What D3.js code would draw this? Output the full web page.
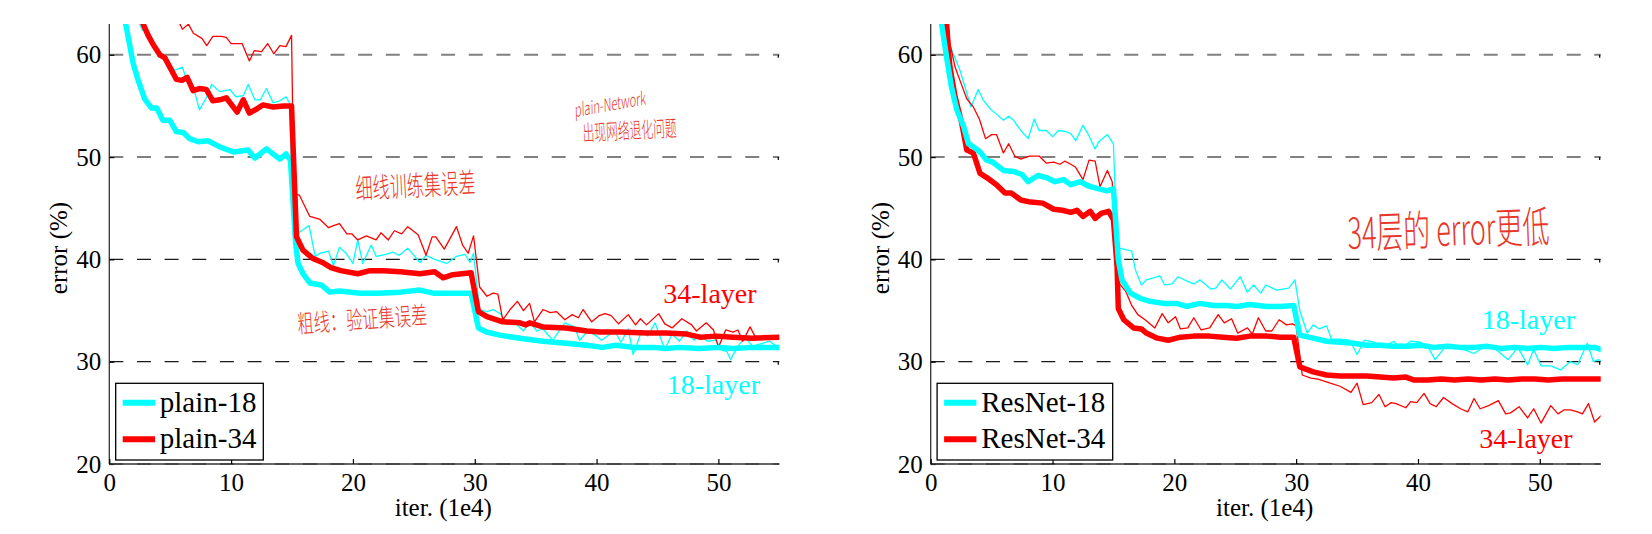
<!DOCTYPE html>
<html>
<head>
<meta charset="utf-8">
<script src="https://cdn.jsdelivr.net/npm/d3@7"></script>
<style>
  html, body { margin: 0; padding: 0; background: #fff; }
  svg { display: block; }
</style>
</head>
<body>
<svg id="chart" width="1652" height="534"></svg>
<script>
// ---------- data (x in 1e4 iterations, y = error %) ----------
const xTicks = [0, 10, 20, 30, 40, 50];
const yTicks = [20, 30, 40, 50, 60];

const plain18Train = [[2.3,64.5],[2.5,63],[2.7,62.4],[3.0,62.6],[3.5,61.6],[4.0,59.8],[4.4,59.8],[4.97,58.8],[5.4,58.5],[6.0,58.8],[6.3,57.7],[7.0,56.4],[7.4,54.6],[8.0,55.9],[8.4,57.1],[9.07,56.4],[9.9,56.6],[10.4,55.9],[11.0,56.0],[11.4,57.1],[11.95,55.6],[12.4,55.6],[12.9,56.7],[13.45,55.3],[14.0,55.5],[14.5,55.9],[14.8,55.3],[15.1,43.2],[15.5,42.6],[15.9,42.9],[16.4,43.3],[16.9,40.3],[17.3,40.6],[18.0,40.8],[18.4,39.4],[18.9,41.2],[19.5,40.5],[20.0,39.6],[20.4,41.9],[20.8,39.6],[21.5,41.4],[21.9,40.3],[22.7,40.5],[23.3,40.7],[23.8,40.4],[24.5,41.1],[25.5,39.7],[26.0,40.4],[26.7,40.0],[27.7,39.6],[28.5,40.3],[29.2,40.5],[29.6,39.7],[29.9,40.6],[30.4,35.1],[31.0,34.9],[31.5,35.1],[32.1,34.7],[32.6,33.9],[33.3,33.8],[34.0,33.0],[34.5,33.9],[35.1,33.0],[35.6,33.2],[36.4,32.1],[37.4,33.8],[38.2,33.4],[38.6,32.1],[39.3,33.0],[40.0,32.5],[40.4,32.1],[41.5,33.0],[42.0,31.9],[42.6,33.2],[43.0,30.7],[43.7,33.0],[44.2,32.5],[44.8,33.8],[45.6,31.2],[46.2,32.7],[46.8,32.0],[47.4,33.0],[48.0,32.1],[48.5,32.6],[49.1,32.0],[49.8,32.1],[50.3,31.1],[50.7,31.0],[51.0,30.2],[51.6,31.5],[52.2,32.4],[52.8,31.5],[53.6,31.8],[54.2,32.0],[54.8,31.5],[55,31.3]];

const plain34Train = [[5.5,64.5],[5.8,63],[6.0,62.5],[6.5,63.0],[6.9,62.1],[7.6,61.6],[8.0,60.9],[8.5,61.8],[9.2,61.8],[9.6,61.7],[10.0,61.1],[10.5,61.1],[10.9,61.1],[11.5,59.4],[11.9,60.4],[12.5,60.3],[13.0,61.1],[13.5,60.1],[14.0,60.9],[14.5,60.8],[14.96,61.9],[15.15,46.3],[15.6,46.3],[16.46,44.2],[17.3,43.9],[18.0,43.1],[18.4,43.3],[18.9,43.5],[19.5,42.5],[19.9,42.5],[20.4,41.9],[21.1,42.3],[21.9,41.9],[22.3,42.6],[22.9,41.9],[23.4,42.8],[24.0,42.5],[24.5,43.2],[25.35,42.4],[26.0,40.4],[26.5,42.2],[26.8,42.2],[27.5,41.0],[28.5,43.2],[29.0,41.4],[29.46,40.6],[29.9,42.3],[30.4,37.3],[31.0,36.4],[31.5,36.7],[31.9,36.6],[32.3,34.1],[32.9,35.1],[33.5,35.9],[34.0,35.0],[34.5,35.7],[34.9,33.9],[35.6,35.1],[36.2,34.8],[36.7,34.9],[37.4,34.1],[38.0,34.6],[38.5,34.3],[38.9,35.1],[39.6,33.9],[40.2,34.5],[40.7,34.7],[41.2,34.5],[41.8,33.7],[42.6,34.6],[43.2,33.6],[43.6,34.2],[44.1,33.6],[45.1,34.7],[45.6,33.7],[46.2,33.3],[47.0,34.2],[47.8,33.6],[48.2,33.0],[49.0,33.8],[49.6,33.1],[50.0,31.4],[50.6,33.1],[51.2,32.9],[51.6,33.1],[52.0,32.0],[52.6,33.4],[53.0,32.5],[53.5,32.4],[54.1,32.5],[54.6,32.2],[55,32.3]];

const plain18Val = [[1.1,66],[1.35,63],[1.95,59.2],[2.37,57.5],[2.9,55.7],[3.46,54.8],[3.9,54.8],[4.4,53.6],[4.97,53.6],[5.5,52.5],[6.07,52.4],[6.6,51.8],[7.29,51.5],[8.1,51.6],[9.07,51.0],[10.2,50.5],[11.4,50.7],[11.95,49.9],[12.9,50.8],[14.0,49.8],[14.5,50.3],[14.87,49.7],[15.3,41.5],[15.5,39.6],[15.9,38.6],[16.46,37.7],[17.4,37.5],[18.1,36.8],[18.9,36.9],[20.6,36.7],[22.0,36.7],[23.9,36.8],[25.5,37.0],[26.6,36.7],[28.8,36.7],[29.7,36.7],[30.3,33.3],[30.97,32.9],[32.06,32.6],[33.7,32.3],[35.6,32.0],[37.5,31.8],[39.2,31.6],[40.5,31.4],[41.6,31.6],[43.0,31.4],[44.7,31.4],[45.7,31.3],[46.8,31.4],[48.4,31.3],[50.1,31.4],[51.2,31.3],[52.8,31.4],[55,31.4]];

const plain34Val = [[2.6,64.5],[2.78,63],[3.19,61.9],[3.6,61.0],[4.15,60.0],[4.56,59.7],[4.97,58.8],[5.5,57.6],[5.96,57.5],[6.39,57.8],[6.88,56.5],[7.4,56.7],[7.97,56.6],[8.5,55.5],[9.07,55.6],[9.6,55.8],[10.5,54.4],[11.0,55.6],[11.5,54.3],[12.1,54.7],[12.6,55.1],[13.45,54.9],[14.3,55.0],[14.96,55.0],[15.37,42.2],[15.9,40.9],[16.7,40.1],[17.5,39.7],[18.2,39.2],[19.0,38.9],[20.4,38.6],[21.4,38.9],[22.5,38.9],[23.9,38.8],[25.5,38.6],[26.7,38.8],[27.4,38.2],[28.2,38.5],[29.7,38.7],[30.3,34.9],[31.0,34.4],[32.3,33.9],[33.7,33.8],[34.2,33.6],[34.5,33.8],[35.6,33.4],[37.5,33.3],[39.2,33.0],[40.3,32.9],[41.9,32.9],[44.1,32.8],[45.7,32.8],[47.4,32.7],[48.5,32.4],[49.8,32.5],[51.2,32.4],[52.8,32.3],[55,32.4]];

const res18Train = [[1.0,66],[1.4,61.5],[1.85,60.1],[2.4,58.5],[2.8,56.9],[3.3,54.9],[3.9,56.6],[4.3,55.6],[4.9,54.7],[5.4,54.2],[5.97,53.6],[6.4,54.0],[6.8,53.6],[7.4,52.6],[8.0,51.8],[8.5,53.7],[8.9,52.6],[9.5,52.6],[10.0,52.0],[10.5,52.6],[11.1,52.5],[11.5,52.3],[11.9,51.6],[12.5,53.1],[12.9,52.3],[13.5,50.8],[13.8,51.5],[14.5,52.2],[15.0,51.3],[15.3,41.2],[15.5,41.1],[16.5,40.8],[16.8,39.0],[17.3,37.5],[17.7,38.0],[18.3,38.2],[18.8,38.4],[19.2,37.5],[19.8,37.6],[20.3,38.3],[21.0,37.9],[21.6,37.6],[22.1,38.0],[23.0,37.1],[23.4,37.2],[23.9,38.0],[24.6,37.1],[25.4,38.3],[26.0,36.8],[26.5,37.5],[27.1,36.7],[27.5,37.5],[28.4,37.0],[29.4,37.2],[29.9,38.0],[30.3,35.0],[30.9,32.8],[31.4,33.6],[31.9,33.2],[32.5,33.5],[32.9,32.2],[33.6,32.2],[34.4,32.1],[35.0,30.7],[35.6,32.1],[36.4,31.9],[37.2,31.4],[38.0,32.0],[38.6,31.3],[39.4,32.0],[40.2,31.9],[40.8,31.5],[41.4,30.2],[42.4,31.7],[43.5,31.3],[44.6,30.8],[45.6,31.6],[46.3,31.3],[47.4,30.2],[48.2,31.4],[49.0,29.7],[49.5,31.2],[50.1,29.6],[50.9,29.6],[51.7,29.2],[52.5,30.0],[53.1,29.7],[53.9,31.8],[54.4,30.0],[54.8,30.2],[55,30.1]];

const res34Train = [[1.3,66],[1.6,61],[2.0,58.8],[2.4,57.5],[2.96,55.7],[3.5,54.9],[4.0,53.7],[4.5,51.8],[5.0,52.2],[5.4,52.2],[5.97,50.4],[6.4,51.3],[6.9,50.1],[7.4,49.8],[8.1,50.1],[8.9,50.1],[9.5,49.4],[10.1,49.5],[10.6,49.3],[11.0,49.6],[11.5,49.3],[11.9,49.0],[12.5,47.8],[13.0,49.7],[13.5,49.6],[13.9,47.1],[14.5,48.7],[14.9,47.6],[15.2,42.0],[15.5,37.6],[16.0,36.9],[16.5,35.5],[17.0,34.6],[17.6,34.1],[18.4,33.3],[19.0,34.7],[19.5,33.8],[20.1,34.4],[20.5,33.2],[21.1,33.3],[21.6,34.3],[22.2,33.1],[22.9,33.3],[23.6,34.6],[24.1,33.8],[24.7,34.2],[25.2,32.8],[26.0,33.3],[26.4,32.7],[26.9,34.3],[27.5,33.0],[28.0,33.0],[28.6,34.1],[29.2,33.6],[29.7,33.7],[30.0,33.5],[30.5,28.7],[31.2,28.4],[31.8,28.3],[32.8,27.9],[33.6,27.6],[34.5,27.0],[35.0,27.9],[35.5,25.8],[36.2,26.0],[36.8,26.8],[37.3,25.6],[37.8,26.0],[38.2,25.9],[39.0,25.5],[39.4,26.1],[39.9,26.0],[40.5,26.9],[41.0,25.9],[41.5,25.6],[42.1,26.5],[42.8,25.9],[43.5,25.4],[44.1,25.1],[44.6,26.4],[45.1,25.4],[45.8,25.7],[46.6,26.2],[47.2,24.9],[47.6,25.0],[48.3,25.6],[49.0,24.5],[49.5,25.4],[50.1,24.0],[50.9,25.7],[51.5,24.9],[52.0,25.3],[52.5,25.3],[53.1,25.1],[53.5,24.9],[54.0,25.9],[54.5,24.1],[55,24.7]];

const res18Val = [[0.75,66],[0.9,63],[1.3,59.8],[1.7,56.9],[2.15,54.6],[2.7,53.0],[3.1,51.3],[3.5,51.0],[4.05,50.5],[4.6,49.7],[5.1,49.5],[5.97,48.7],[6.8,48.6],[7.5,48.3],[8.0,47.6],[8.8,48.2],[9.5,48.0],[10.2,47.6],[10.9,47.8],[11.5,47.3],[12.3,47.6],[12.9,47.2],[13.5,47.0],[14.46,46.7],[15.0,46.9],[15.4,40.0],[15.7,38.0],[16.4,36.7],[17.2,36.2],[18.0,35.9],[19.1,35.7],[20.2,35.7],[21.0,35.4],[22.1,35.7],[23.2,35.5],[24.3,35.5],[25.1,35.4],[26.2,35.6],[27.6,35.4],[28.7,35.4],[29.8,35.5],[30.3,32.6],[31.4,32.3],[32.5,32.0],[33.6,31.9],[34.7,31.8],[35.8,31.6],[36.9,31.6],[38.0,31.5],[39.1,31.5],[40.2,31.6],[41.3,31.4],[42.4,31.5],[43.5,31.4],[44.6,31.4],[45.7,31.5],[46.8,31.3],[47.9,31.4],[49.0,31.3],[50.1,31.4],[51.2,31.3],[52.3,31.4],[53.4,31.4],[54.5,31.4],[55,31.2]];

const res34Val = [[1.1,66],[1.25,63],[1.58,58.8],[2.0,55.9],[2.55,53.3],[2.96,50.7],[3.5,50.4],[4.05,48.4],[4.6,48.0],[5.4,47.3],[6.1,46.5],[6.6,46.5],[7.4,45.8],[8.2,45.6],[9.2,45.5],[10.1,44.9],[10.8,44.8],[11.5,44.6],[12.0,44.8],[12.5,44.2],[13.1,44.7],[13.5,44.0],[14.0,44.5],[14.6,44.7],[15.0,43.9],[15.3,39.3],[15.4,35.2],[15.85,34.1],[16.65,33.3],[17.3,33.2],[17.7,32.8],[18.6,32.3],[19.5,32.1],[20.5,32.4],[21.6,32.5],[22.9,32.5],[24.0,32.4],[25.1,32.3],[26.2,32.5],[27.6,32.5],[28.7,32.4],[29.8,32.4],[30.3,29.5],[31.4,29.0],[32.5,28.7],[33.6,28.6],[34.7,28.6],[35.8,28.6],[36.9,28.5],[38.0,28.4],[39.0,28.5],[39.7,28.2],[40.8,28.2],[41.9,28.3],[43.0,28.2],[44.1,28.3],[45.2,28.2],[46.3,28.3],[47.4,28.2],[48.5,28.3],[49.6,28.3],[50.7,28.2],[51.8,28.3],[52.9,28.3],[54.0,28.3],[55,28.3]];

const leftLegend = ["plain-18", "plain-34"];
const rightLegend = ["ResNet-18", "ResNet-34"];
const xLabel = "iter. (1e4)";
const yLabel = "error (%)";

// ---------- drawing ----------
const CYAN = "#00ffff", RED = "#ff0000", HAND = "#e8362a";
const SERIF = "'Liberation Serif', 'Times New Roman', serif";
const CJK = "'Noto Sans CJK SC', sans-serif";
const svg = d3.select("#chart");

function panel(id, x0, series, legendLabels, layerLabels) {
  const W = 670, top = 24.1, bottom = 464;
  const x = d3.scaleLinear().domain([0, 55]).range([x0, x0 + W]);
  const y = d3.scaleLinear().domain([20, 63]).range([bottom, top]);
  const g = svg.append("g");

  g.append("clipPath").attr("id", "clip" + id)
    .append("rect").attr("x", x0).attr("y", top).attr("width", W).attr("height", bottom - top);

  // grid lines
  g.append("g").selectAll("line").data(yTicks).join("line")
    .attr("x1", x0).attr("x2", x0 + W)
    .attr("y1", d => y(d)).attr("y2", d => y(d))
    .attr("stroke", d => (d >= 50 || d === 20) ? "#808080" : "#1a1a1a")
    .attr("stroke-width", d => (d >= 50 || d === 20) ? 2 : 1.2)
    .attr("stroke-dasharray", "14,13.65");

  // axes
  const yAxis = d3.axisLeft(y).tickValues(yTicks).tickSize(-5).tickPadding(8);
  const ya = g.append("g").attr("transform", `translate(${x0},0)`).call(yAxis);
  const xAxis = d3.axisBottom(x).tickValues(xTicks).tickSize(-5).tickPadding(9);
  const xa = g.append("g").attr("transform", `translate(0,${bottom})`).call(xAxis);
  [ya, xa].forEach(a => {
    a.select(".domain").attr("stroke", "#333").attr("stroke-width", 1.3);
    a.selectAll(".tick line").attr("stroke", "#000").attr("stroke-width", 1.2);
    a.selectAll("text").attr("font-family", SERIF).attr("font-size", 25).attr("fill", "#000");
  });
  ya.select(".domain").attr("d", `M0,${top}V${bottom}`);
  xa.select(".domain").attr("d", `M${x0},0H${x0 + W}`);
  // small right-end ticks on grid lines
  g.append("g").selectAll("line").data(yTicks.filter(d => d > 20)).join("line")
    .attr("x1", x0 + W - 1).attr("x2", x0 + W - 1)
    .attr("y1", d => y(d)).attr("y2", d => y(d) + 3)
    .attr("stroke", "#000").attr("stroke-width", 1.2);

  // series
  const line = d3.line().x(d => x(d[0])).y(d => y(d[1]));
  const lines = g.append("g").attr("clip-path", `url(#clip${id})`);
  series.forEach(s => {
    lines.append("path").datum(s.data)
      .attr("d", line).attr("fill", "none")
      .attr("stroke", s.color).attr("stroke-width", s.width)
      .attr("stroke-linejoin", "round").attr("stroke-linecap", "round");
  });

  // axis labels
  g.append("text").attr("x", x0 + W / 2 - 1).attr("y", 516)
    .attr("text-anchor", "middle").attr("font-family", SERIF).attr("font-size", 25)
    .text(xLabel);
  g.append("text").attr("transform", `translate(${x0 - 42},248) rotate(-90)`)
    .attr("text-anchor", "middle").attr("font-family", SERIF).attr("font-size", 25)
    .text(yLabel);

  // legend
  const lg = g.append("g");
  const lw = legendLabels.w;
  lg.append("rect").attr("x", x0 + 6.4).attr("y", 383.3).attr("width", lw).attr("height", 76.7)
    .attr("fill", "#fff").attr("stroke", "#000").attr("stroke-width", 1.3);
  [[legendLabels.a, CYAN, 402.7, 411.7], [legendLabels.b, RED, 439.3, 448.3]].forEach(([t, c, ly, ty]) => {
    lg.append("line").attr("x1", x0 + 13.4).attr("x2", x0 + 45.7).attr("y1", ly).attr("y2", ly)
      .attr("stroke", c).attr("stroke-width", 6);
    lg.append("text").attr("x", x0 + 50.5).attr("y", ty).attr("font-family", SERIF)
      .attr("font-size", 29).attr("fill", "#000").text(t);
  });

  // layer labels
  layerLabels.forEach(l => {
    g.append("text").attr("x", x0 + l.dx).attr("y", l.y).attr("font-family", SERIF)
      .attr("font-size", 28).attr("fill", l.c).text(l.t);
  });
  return g;
}

panel("L", 109.3, [
  { data: plain18Train, color: CYAN, width: 1.3 },
  { data: plain34Train, color: RED, width: 1.3 },
  { data: plain18Val, color: CYAN, width: 5.5 },
  { data: plain34Val, color: RED, width: 5.5 }
], { a: leftLegend[0], b: leftLegend[1], w: 147.6 }, [
  { t: "34-layer", c: RED, dx: 554, y: 302.7 },
  { t: "18-layer", c: CYAN, dx: 557.4, y: 394 }
]);

panel("R", 930.7, [
  { data: res18Train, color: CYAN, width: 1.3 },
  { data: res34Train, color: RED, width: 1.3 },
  { data: res34Val, color: RED, width: 5.5 },
  { data: res18Val, color: CYAN, width: 5.5 }
], { a: rightLegend[0], b: rightLegend[1], w: 175.6 }, [
  { t: "18-layer", c: CYAN, dx: 551, y: 329.3 },
  { t: "34-layer", c: RED, dx: 548.6, y: 448.3 }
]);

// hand-written annotations (tall, narrow strokes: vertical stretch sy)
const notes = [
  { t: "plain-Network", x: 575, y: 117, size: 15, sy: 1.2, len: 72, rot: -10, style: "italic" },
  { t: "出现网络退化问题", x: 583, y: 141, size: 13, sy: 1.7, len: 94, rot: -3 },
  { t: "细线训练集误差", x: 356, y: 199, size: 17, sy: 1.65, len: 120, rot: -3 },
  { t: "粗线：验证集误差", x: 298, y: 333, size: 16, sy: 1.55, len: 130, rot: -4 },
  { t: "34层的 error更低", x: 1348, y: 249, size: 26, sy: 1.65, len: 202, rot: -2 }
];
svg.append("g").selectAll("text").data(notes).join("text")
  .attr("transform", d => `translate(${d.x},${d.y}) rotate(${d.rot}) scale(1,${d.sy})`)
  .attr("font-family", CJK).attr("font-size", d => d.size)
  .attr("font-weight", 300)
  .attr("font-style", d => d.style || "normal")
  .attr("fill", HAND)
  .attr("textLength", d => d.len).attr("lengthAdjust", "spacingAndGlyphs")
  .text(d => d.t);
</script>
</body>
</html>
